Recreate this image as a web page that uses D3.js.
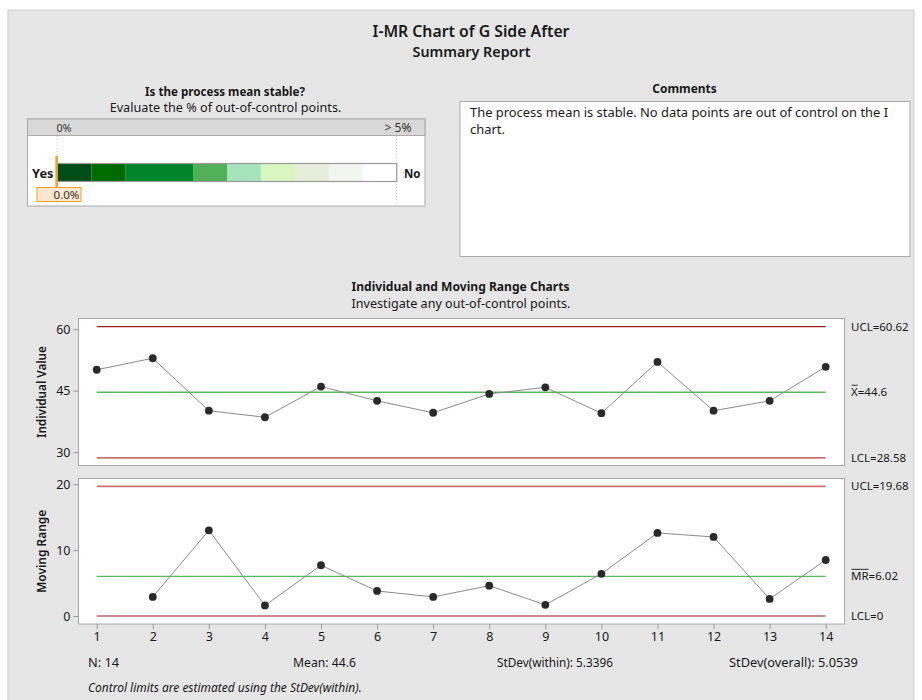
<!DOCTYPE html>
<html><head><meta charset="utf-8">
<script src="https://cdn.jsdelivr.net/npm/d3@7"></script>
<style>body{margin:0;background:#fff}svg{display:block;font-family:"Noto Sans",sans-serif}</style>
</head><body><svg id="c" width="922" height="700"></svg>
<script>
// ---------- data ----------
const observations = [1,2,3,4,5,6,7,8,9,10,11,12,13,14];
const individualValues = [50.1,52.9,40.1,38.5,46.0,42.5,39.6,44.2,45.8,39.5,52.0,40.1,42.5,50.8];
const movingRanges = [null,2.9,13.0,1.6,7.7,3.8,2.9,4.6,1.7,6.4,12.6,12.0,2.6,8.5];
const iLimitNames = ["UCL","X","LCL"];
const iLimitValues = [60.62,44.6,28.58];
const mrLimitNames = ["UCL","MR","LCL"];
const mrLimitValues = [19.68,6.02,0];
const iTicks = [30,45,60];
const mrTicks = [0,10,20];
const stabilityBreaks = [0,0.5,1,2,2.5,3,3.5,4,4.5,5];
const stabilityColors = ["#004d1a","#006b00","#00852a","#52b05a","#a6e3bc","#d9f5c0","#e4eedb","#f1f7ef","#ffffff"];
const outOfControlPct = 0.0;
const statLabels = ["N: 14","Mean: 44.6","StDev(within): 5.3396","StDev(overall): 5.0539"];
const commentLines = ["The process mean is stable. No data points are out of control on the I","chart."];

// ---------- helpers ----------
const svg = d3.select("#c");
function fit(sel, w){ // scale font size so the text spans the reference width
  const n = sel.node(); const fs = +sel.attr("font-size");
  const m = n.getComputedTextLength(); if(m>0) sel.attr("font-size", (fs*w/m).toFixed(2));
  return sel;
}
function txt(x,y,s,fs,opts={}){
  const t = svg.append("text").attr("x",x).attr("y",y).attr("font-size",fs).attr("fill","#1a1a1a").text(s);
  if(opts.anchor) t.attr("text-anchor",opts.anchor);
  if(opts.weight) t.attr("font-weight",opts.weight);
  if(opts.italic) t.attr("font-style","italic");
  if(opts.w) fit(t,opts.w);
  return t;
}

svg.append("rect").attr("x",8).attr("y",10).attr("width",906).attr("height",700)
  .attr("fill","#e6e6e6").attr("stroke","#cfcfcf");

// titles
txt(471,37,"I-MR Chart of G Side After",15,{anchor:"middle",weight:600,w:197});
txt(471.5,57,"Summary Report",14,{anchor:"middle",weight:600,w:118});

// stability panel
txt(225,95.5,"Is the process mean stable?",12,{anchor:"middle",weight:700,w:160});
txt(225.5,112,"Evaluate the % of out-of-control points.",12,{anchor:"middle",w:232});
const boxX=27.5, boxY=119, boxW=397.5, boxH=87;
svg.append("rect").attr("x",boxX).attr("y",boxY).attr("width",boxW).attr("height",boxH)
  .attr("fill","#fff").attr("stroke","#aaa");
svg.append("rect").attr("x",boxX).attr("y",boxY).attr("width",boxW).attr("height",16.5)
  .attr("fill","#d8d8d8").attr("stroke","#aaa");
const sx = d3.scaleLinear().domain([0,5]).range([57.3,396.7]);
txt(56.5,131.5,"0%",11.5,{w:15}).attr("fill","#333");
txt(411.5,131.5,"> 5%",11.5,{anchor:"end",w:27}).attr("fill","#333");
[0,5].forEach(v=>svg.append("line").attr("x1",sx(v)).attr("x2",sx(v)).attr("y1",136).attr("y2",206)
  .attr("stroke","#ccc").attr("stroke-dasharray","1,2"));
svg.selectAll(".seg").data(stabilityColors).enter().append("rect")
  .attr("x",(d,i)=>sx(stabilityBreaks[i])).attr("width",(d,i)=>sx(stabilityBreaks[i+1])-sx(stabilityBreaks[i]))
  .attr("y",163.5).attr("height",18).attr("fill",d=>d);
svg.append("rect").attr("x",sx(0)).attr("y",163.5).attr("width",sx(5)-sx(0)).attr("height",18)
  .attr("fill","none").attr("stroke","#999").attr("stroke-width",1.2);
txt(53.5,177.5,"Yes",12.5,{anchor:"end",weight:700,w:21.5});
txt(404,177.5,"No",12.5,{weight:700,w:16.5});
svg.append("line").attr("x1",sx(outOfControlPct)-0.7).attr("x2",sx(outOfControlPct)-0.7).attr("y1",156).attr("y2",188)
  .attr("stroke","#f5a01a").attr("stroke-width",2.5);
svg.append("rect").attr("x",37).attr("y",187.5).attr("width",44).attr("height",14)
  .attr("fill","#fbe6cf").attr("stroke","#f5a01a");
txt(79.5,198.5,outOfControlPct.toFixed(1)+"%",11.5,{anchor:"end",w:26}).attr("fill","#333");

// comments panel
txt(684.5,93,"Comments",12,{anchor:"middle",weight:700,w:64.5});
svg.append("rect").attr("x",460).attr("y",101.5).attr("width",450).attr("height",155)
  .attr("fill","#fff").attr("stroke","#aaa");
const c0 = txt(470,117,commentLines[0],12.5,{w:418});
const cfs = c0.attr("font-size");
commentLines.slice(1).forEach((t,i)=>txt(470,117+(i+1)*16.5,t,cfs));

// charts header
txt(460.5,290.5,"Individual and Moving Range Charts",12,{anchor:"middle",weight:700,w:218});
txt(461,308,"Investigate any out-of-control points.",12,{anchor:"middle",w:219});

const x = d3.scaleLinear().domain([1,14]).range([96.7,825.7]);
const frameL=78.5, frameR=844.5;

function panel(yTop,yBot,domain,ticks,values,limVals,limNames,limStyles,ylabel,ylabelW){
  const y = d3.scaleLinear().domain(domain).range([yBot,yTop]);
  svg.append("rect").attr("x",frameL).attr("y",yTop).attr("width",frameR-frameL).attr("height",yBot-yTop)
    .attr("fill","#fff").attr("stroke","#a8a8a8");
  const ax = svg.append("g").attr("transform",`translate(${frameL},0)`)
    .call(d3.axisLeft(y).tickValues(ticks).tickSize(5).tickPadding(3));
  ax.select(".domain").remove();
  ax.selectAll("line").attr("stroke","#999");
  ax.selectAll("text").attr("font-size",12.5).attr("fill","#1a1a1a").attr("font-family","Noto Sans");
  limVals.forEach((v,i)=>{
    svg.append("line").attr("x1",x(1)).attr("x2",x(14)).attr("y1",y(v)).attr("y2",y(v))
      .attr("stroke",limStyles[i][0]).attr("stroke-width",limStyles[i][1]);
    const t = svg.append("text").attr("x",851).attr("y",y(v)).attr("dy","0.35em")
      .attr("font-size",11.5).attr("fill","#1a1a1a").text(limNames[i]+"="+v);
    if(i===1){
      const w = t.node().getSubStringLength(0,limNames[i].length);
      svg.append("line").attr("x1",851.5).attr("x2",851+w).attr("y1",y(v)-7).attr("y2",y(v)-7)
        .attr("stroke","#1a1a1a").attr("stroke-width",0.9);
    }
  });
  const pts = observations.map((o,i)=>({o,v:values[i]})).filter(d=>d.v!=null);
  svg.append("path").datum(pts).attr("fill","none").attr("stroke","#8a8a8a").attr("stroke-width",1)
    .attr("d",d3.line().x(d=>x(d.o)).y(d=>y(d.v)));
  svg.selectAll(null).data(pts).enter().append("circle")
    .attr("cx",d=>x(d.o)).attr("cy",d=>y(d.v)).attr("r",3.9).attr("fill","#2a2a2a");
  const lab = svg.append("text").attr("transform",`translate(46,${(yTop+yBot)/2}) rotate(-90)`)
    .attr("text-anchor","middle").attr("font-size",12).attr("font-weight",600).attr("fill","#1a1a1a").text(ylabel);
  fit(lab, ylabelW);
  return y;
}
panel(318.5,465.5,[26.73,62.6],iTicks,individualValues,iLimitValues,iLimitNames,
  [["#a01e1e",1.2],["#5cb85c",1.6],["#cf7070",1.8]],"Individual Value",92);
panel(478.5,624,[-1.21,20.86],mrTicks,movingRanges,mrLimitValues,mrLimitNames,
  [["#cf7070",1.8],["#5cb85c",1.4],["#8e1f1f",1.2]],"Moving Range",83);

const xa = svg.append("g").attr("transform","translate(0,624)")
  .call(d3.axisBottom(x).tickValues(observations).tickSize(5).tickPadding(3).tickFormat(d3.format("d")));
xa.select(".domain").remove();
xa.selectAll("line").attr("stroke","#999");
xa.selectAll("text").attr("font-size",12.5).attr("fill","#1a1a1a").attr("font-family","Noto Sans");

// stats
const statX=[88,293,497,729];
const statW=[31,63,116,129];
statLabels.forEach((t,i)=>txt(statX[i],667,t,11.5,{w:statW[i]}));
txt(88,692,"Control limits are estimated using the StDev(within).",11.5,{italic:true,w:274});
</script></body></html>
